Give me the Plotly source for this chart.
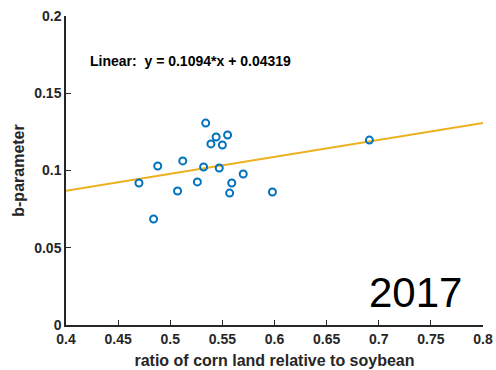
import plotly.graph_objects as go

# data
ratio = [0.470, 0.488, 0.512, 0.507, 0.484, 0.526, 0.534, 0.544, 0.555, 0.539,
         0.550, 0.532, 0.547, 0.570, 0.559, 0.557, 0.598, 0.691]
bparam = [0.0919, 0.1029, 0.1062, 0.0867, 0.0686, 0.0926, 0.1307, 0.1217, 0.1230, 0.1172,
          0.1165, 0.1023, 0.1016, 0.0977, 0.0919, 0.0854, 0.0861, 0.1197]
slope = 0.1094
intercept = 0.04319
x_ticks = [0.4, 0.45, 0.5, 0.55, 0.6, 0.65, 0.7, 0.75, 0.8]
x_ticklabels = ["0.4", "0.45", "0.5", "0.55", "0.6", "0.65", "0.7", "0.75", "0.8"]
y_ticks = [0, 0.05, 0.1, 0.15, 0.2]
y_ticklabels = ["0", "0.05", "0.1", "0.15", "0.2"]

fit_x = [x_ticks[0], x_ticks[-1]]
fit_y = [slope * v + intercept for v in fit_x]

fig = go.Figure()
fig.add_trace(go.Scatter(x=fit_x, y=fit_y, mode="lines",
                         line=dict(color="#EDB120", width=2), showlegend=False))
fig.add_trace(go.Scatter(x=ratio, y=bparam, mode="markers",
                         marker=dict(symbol="circle-open", size=7, color="#0072BD",
                                     line=dict(width=2, color="#0072BD")),
                         showlegend=False))

tickfont = dict(family="Liberation Sans", size=14, color="#262626")
titlefont = dict(family="Liberation Sans", size=16, color="#262626")
fig.update_layout(
    width=496, height=370,
    margin=dict(l=66, r=13, t=16, b=45, autoexpand=False),
    paper_bgcolor="white", plot_bgcolor="white",
    font=dict(family="Liberation Sans", color="#262626"),
    xaxis=dict(range=[0.4, 0.8], tickvals=x_ticks,
               ticktext=["<b>%s</b>" % t for t in x_ticklabels],
               ticks="inside", ticklen=5, tickwidth=1.2, tickcolor="#262626",
               showline=True, linecolor="#262626", linewidth=1.5,
               showgrid=False, zeroline=False, automargin=False,
               tickfont=tickfont,
               title=dict(text="<b>ratio of corn land relative to soybean</b>",
                          font=titlefont, standoff=9)),
    yaxis=dict(range=[0, 0.2], tickvals=y_ticks,
               ticktext=["<b>%s</b>" % t for t in y_ticklabels],
               ticks="inside", ticklen=5, tickwidth=1.2, tickcolor="#262626",
               showline=True, linecolor="#262626", linewidth=1.5,
               showgrid=False, zeroline=False, automargin=False,
               tickfont=tickfont,
               title=dict(text="<b>b-parameter</b>",
                          font=titlefont, standoff=6)),
    annotations=[
        dict(text="<b>Linear:  y = 0.1094*x + 0.04319</b>", xref="paper", yref="paper",
             x=0.053, y=0.855, xanchor="left", yanchor="middle", showarrow=False,
             font=dict(family="Liberation Sans", size=14, color="black")),
        dict(text="2017", xref="paper", yref="paper",
             x=0.955, y=0.105, xanchor="right", yanchor="middle", showarrow=False,
             font=dict(family="Liberation Sans", size=42, color="black")),
    ],
)
fig.write_html("out.html")
